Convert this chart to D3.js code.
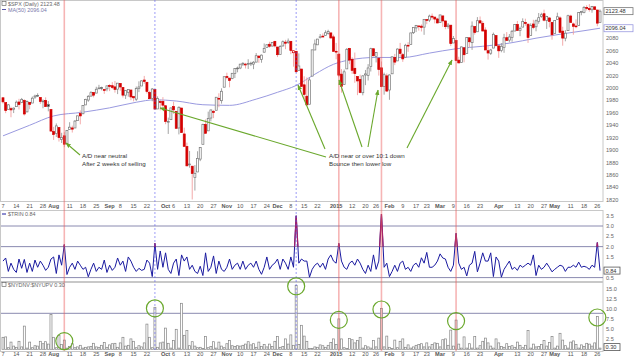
<!DOCTYPE html>
<html>
<head>
<meta charset="utf-8">
<script src="https://cdn.jsdelivr.net/npm/d3@7"></script>
<style>
  body { margin: 0; background: #fff; }
  svg { display: block; font-family: 'Liberation Sans', Arial, sans-serif; }
</style>
</head>
<body>
<div class="board"></div>
<script>
/*
=================================
DATA
=================================
*/
// trading days, month by month
var months = ['2014-07','2014-08','2014-09','2014-10','2014-11','2014-12','2015-01','2015-02','2015-03','2015-04','2015-05'];
var monthDays = [
  [7,8,9,10,11,14,15,16,17,18,21,22,23,24,25,28,29,30,31],
  [1,4,5,6,7,8,11,12,13,14,15,18,19,20,21,22,25,26,27,28,29],
  [2,3,4,5,8,9,10,11,12,15,16,17,18,19,22,23,24,25,26,29,30],
  [1,2,3,6,7,8,9,10,13,14,15,16,17,20,21,22,23,24,27,28,29,30,31],
  [3,4,5,6,7,10,11,12,13,14,17,18,19,20,21,24,25,26,28],
  [1,2,3,4,5,8,9,10,11,12,15,16,17,18,19,22,23,24,26,29,30,31],
  [2,5,6,7,8,9,12,13,14,15,16,20,21,22,23,26,27,28,29,30],
  [2,3,4,5,6,9,10,11,12,13,17,18,19,20,23,24,25,26,27],
  [2,3,4,5,6,9,10,11,12,13,16,17,18,19,20,23,24,25,26,27,30,31],
  [1,2,6,7,8,9,10,13,14,15,16,17,20,21,22,23,24,27,28,29,30],
  [1,4,5,6,7,8,11,12,13,14,15,18,19,20,21,22,26,27]
];

var open = [
  1984.2,1976.4,1965.1,1966.7,1965.8,1969.9,1977.4,1976.4,1979.8,1961.5,1976.9,1975.7,1985.3,1988.1,1984.6,1978.3,1980.0,1973.2,1965.1,
  1929.8,1926.6,1936.3,1917.3,1923.0,1910.4,1933.4,1935.7,1935.6,1947.4,1958.9,1958.4,1972.7,1980.5,1986.8,1992.6,1991.7,1998.6,2000.5,1997.4,1998.5,
  2004.1,2003.6,2001.7,1998.0,2007.2,2000.7,1988.4,1992.9,1996.7,1986.0,1981.9,1999.3,2003.1,2012.7,2009.1,1992.8,1983.3,1997.3,1966.2,1978.0,1978.2,
  1971.4,1945.8,1949.0,1970.0,1962.4,1935.6,1967.7,1926.0,1905.7,1877.1,1874.2,1855.9,1864.9,1885.6,1909.4,1941.3,1931.0,1951.6,1962.0,1964.1,1983.3,1979.5,2001.2,
  2018.2,2015.8,2015.3,2023.3,2032.0,2032.0,2038.2,2037.8,2039.2,2039.7,2038.3,2041.5,2051.2,2045.9,2057.5,2065.1,2070.2,2067.4,2074.8,
  2065.8,2053.8,2067.5,2073.6,2072.8,2074.8,2056.6,2058.9,2027.9,2030.4,2005.0,1986.7,1973.8,2019.0,2061.0,2069.3,2081.5,2083.3,2084.3,2087.6,2088.5,2082.1,
  2058.9,2054.4,2022.2,2005.6,2030.6,2063.5,2046.1,2031.6,2018.4,2013.8,1992.3,2020.8,2020.2,2034.3,2063.0,2050.4,2047.9,2032.3,2002.5,2019.4,
  1996.7,2022.7,2048.9,2043.5,2062.3,2053.5,2049.4,2068.6,2070.0,2088.8,2096.5,2099.2,2099.3,2097.7,2109.8,2109.1,2115.3,2113.9,2110.9,
  2105.2,2115.8,2107.7,2098.5,2100.9,2072.3,2076.1,2044.7,2041.1,2064.6,2055.4,2080.6,2072.8,2098.7,2090.3,2108.0,2103.9,2093.1,2059.9,2055.8,2064.1,2084.1,
  2067.6,2060.0,2064.9,2080.8,2076.9,2081.3,2091.5,2102.0,2092.3,2097.8,2105.0,2102.6,2084.1,2102.8,2098.3,2107.2,2114.8,2119.3,2108.4,2112.5,2105.5,
  2087.4,2110.2,2112.6,2091.3,2080.0,2092.1,2115.6,2102.9,2099.6,2100.4,2122.1,2121.3,2129.5,2127.8,2125.6,2130.4,2125.3,2105.1
];

var high = [
  1984.2,1976.4,1974.2,1969.8,1968.7,1979.8,1982.5,1983.9,1981.8,1979.9,1976.9,1986.2,1989.2,1991.4,1984.6,1981.5,1984.9,1978.9,1965.1,
  1937.4,1942.9,1936.3,1927.9,1928.9,1932.4,1944.9,1939.4,1948.4,1955.2,1964.0,1972.0,1982.6,1988.6,1994.8,1993.5,2001.9,2005.0,2002.1,1998.5,2003.4,
  2006.1,2009.3,2011.2,2007.7,2007.2,2001.0,1996.7,1997.7,1996.7,1987.2,2002.3,2010.7,2012.3,2019.3,2009.1,1995.4,1999.8,1997.3,1986.4,1981.3,1985.2,
  1971.4,1952.3,1968.1,1977.8,1962.4,1970.4,1967.7,1936.1,1912.1,1898.7,1874.2,1876.0,1898.2,1905.0,1942.5,1949.3,1961.9,1965.3,1964.6,1985.1,1991.4,1999.4,2018.2,
  2024.5,2016.0,2023.8,2031.6,2034.3,2038.7,2041.3,2040.3,2046.2,2042.2,2043.1,2056.1,2052.1,2053.8,2071.5,2070.2,2074.2,2073.3,2075.8,
  2065.8,2068.8,2076.3,2077.3,2079.5,2075.8,2060.6,2058.9,2055.5,2030.4,2018.7,2016.9,2016.8,2061.2,2077.9,2078.8,2086.7,2087.6,2092.7,2093.6,2088.5,2085.6,
  2072.4,2054.4,2030.3,2029.6,2064.1,2064.4,2049.3,2056.9,2018.4,2021.4,2020.5,2028.9,2038.3,2064.6,2063.0,2057.6,2047.9,2042.5,2024.6,2023.3,
  2021.7,2050.3,2054.7,2063.6,2072.4,2056.2,2070.9,2073.5,2088.5,2097.0,2101.3,2100.2,2102.1,2110.6,2110.1,2117.9,2119.6,2113.9,2112.7,
  2117.5,2115.8,2107.7,2104.3,2100.9,2083.5,2076.1,2050.1,2066.4,2064.6,2081.4,2080.6,2106.9,2098.7,2113.9,2114.9,2107.6,2097.4,2067.2,2062.8,2089.0,2084.1,
  2067.6,2072.2,2087.0,2089.8,2086.7,2093.3,2102.6,2107.7,2098.6,2111.9,2111.3,2102.6,2103.9,2109.6,2110.0,2120.5,2120.9,2125.9,2116.0,2113.7,2105.5,
  2108.4,2121.0,2115.2,2098.4,2092.9,2117.7,2117.7,2105.1,2110.2,2121.5,2123.9,2131.8,2133.0,2134.7,2131.8,2130.4,2125.3,2126.2
];

var low = [
  1974.9,1959.5,1965.1,1952.9,1959.6,1969.9,1965.3,1975.7,1955.6,1960.8,1965.8,1975.7,1982.4,1985.8,1974.4,1967.3,1969.9,1962.4,1930.0,
  1916.4,1921.2,1913.8,1911.5,1904.8,1909.0,1933.4,1928.3,1935.6,1947.4,1941.5,1958.4,1972.7,1977.7,1986.8,1984.8,1991.7,1998.6,1996.2,1990.5,1994.6,
  1994.9,1998.1,1992.5,1990.1,1995.6,1984.6,1982.3,1985.9,1980.3,1978.5,1979.1,1993.3,2003.1,2006.6,1991.0,1982.4,1978.6,1965.9,1966.2,1964.0,1968.0,
  1941.7,1926.0,1949.0,1958.4,1935.1,1925.3,1927.6,1906.1,1874.1,1871.8,1820.7,1835.0,1864.9,1882.3,1909.4,1927.0,1931.0,1946.3,1951.4,1964.1,1969.0,1974.8,2001.2,
  2013.7,2001.0,2014.0,2015.9,2025.1,2030.2,2035.3,2031.3,2030.4,2035.2,2030.2,2041.5,2040.4,2040.5,2056.8,2065.1,2064.8,2066.4,2065.1,
  2049.6,2053.8,2066.7,2062.3,2070.8,2054.3,2034.2,2024.3,2027.9,2002.3,1982.3,1972.6,1973.8,2019.0,2061.0,2069.3,2079.5,2081.9,2084.3,2085.8,2079.5,2057.9,
  2046.0,2017.3,1992.4,2005.6,2030.6,2038.3,2022.6,2008.3,1988.4,1991.5,1988.1,2004.5,2012.0,2026.4,2050.5,2041.0,2019.9,2001.5,1989.2,1993.4,
  1980.9,2022.7,2036.7,2043.5,2050.0,2041.9,2048.6,2058.0,2070.0,2086.7,2089.8,2092.2,2090.8,2085.4,2102.5,2105.9,2109.9,2103.8,2103.8,
  2104.5,2098.3,2094.5,2095.2,2067.3,2072.2,2044.2,2039.7,2041.1,2041.2,2055.4,2065.1,2061.2,2085.6,2090.3,2104.4,2091.5,2061.1,2045.5,2053.0,2064.1,2067.0,
  2048.4,2057.3,2056.5,2076.1,2073.3,2074.3,2091.5,2092.3,2083.2,2097.8,2100.0,2072.4,2084.1,2094.4,2091.1,2103.2,2112.8,2107.0,2094.9,2097.4,2077.6,
  2087.4,2110.2,2088.5,2067.9,2075.0,2092.1,2104.6,2085.6,2096.0,2100.4,2116.8,2120.0,2124.5,2122.6,2120.9,2125.9,2099.2,2105.1
];

var close = [
  1977.65,1963.71,1972.83,1964.68,1967.57,1977.10,1973.28,1981.57,1958.12,1978.22,1973.63,1983.53,1987.01,1987.98,1978.34,1978.91,1969.95,1970.07,1930.67,
  1925.15,1938.99,1920.21,1920.24,1909.57,1931.59,1936.92,1933.75,1946.72,1955.18,1955.06,1971.74,1981.60,1986.51,1992.37,1988.40,1997.92,2000.02,2000.12,1996.74,2003.37,
  2002.28,2000.72,1997.65,2007.71,2001.54,1988.44,1995.69,1997.45,1985.54,1984.13,1998.98,2001.57,2011.36,2010.40,1994.29,1982.77,1998.30,1965.99,1982.85,1977.80,1972.29,
  1946.16,1946.17,1967.90,1964.82,1935.10,1968.89,1928.21,1906.13,1874.74,1877.70,1862.49,1862.76,1886.76,1904.01,1941.28,1927.11,1950.82,1964.58,1961.63,1985.05,1982.30,1994.65,2018.05,
  2017.81,2012.10,2023.57,2031.21,2031.92,2038.26,2039.68,2038.25,2039.33,2039.82,2041.32,2051.80,2048.72,2052.75,2063.50,2069.41,2067.03,2072.83,2067.56,
  2053.44,2066.55,2074.33,2071.92,2075.37,2060.31,2059.82,2026.14,2035.33,2002.33,1989.63,1972.74,2012.89,2061.23,2070.65,2078.54,2082.17,2081.88,2088.77,2090.57,2080.35,2058.90,
  2058.20,2020.58,2002.61,2025.90,2062.14,2044.81,2028.26,2023.03,2011.27,1992.67,2019.42,2022.55,2032.12,2063.15,2051.82,2057.09,2029.55,2002.16,2021.25,1994.99,
  2020.85,2050.03,2041.51,2062.52,2055.47,2046.74,2068.59,2068.53,2088.48,2096.99,2100.34,2099.68,2097.45,2110.30,2109.66,2115.48,2113.86,2110.74,2104.50,
  2117.39,2107.78,2098.53,2101.04,2071.26,2079.43,2044.16,2040.24,2065.95,2053.40,2081.19,2074.28,2099.50,2089.27,2108.10,2104.42,2091.50,2061.05,2056.15,2061.02,2086.24,2067.89,
  2059.69,2066.96,2080.62,2076.33,2081.90,2091.18,2102.06,2092.43,2095.84,2106.63,2104.99,2081.18,2100.40,2097.29,2107.96,2112.93,2117.69,2108.92,2114.76,2106.85,2085.51,
  2108.29,2114.49,2089.46,2080.15,2088.00,2116.10,2105.33,2099.12,2098.48,2121.10,2122.73,2129.20,2127.83,2125.85,2130.82,2126.06,2104.20,2123.48
];
var prevClose = 1985.44; // Jul 3, 2014

// MA(50) at a few days (day index, value)
var maDay = [0, 10, 19, 30, 40, 50, 57, 65, 75, 85, 95, 103, 110, 117, 124, 130, 140, 150, 160, 170, 180, 190, 200, 210, 218, 224];
var maValue = [1923, 1940, 1955, 1961, 1968, 1977, 1981, 1979, 1973, 1972, 1982, 1993, 2004, 2022, 2038, 2045, 2049, 2049, 2056, 2063, 2067, 2072, 2080, 2087, 2092, 2096];

var trin = [
  1.3,1.45,0.8,1.2,0.9,0.75,1.4,0.95,1.38,0.75,1.2,0.8,1.35,1.0,1.3,1.1,0.85,1.0,1.4,1.5,
  0.7,1.6,1.1,2.1,0.65,1.0,1.2,0.9,1.3,1.1,0.9,1.0,0.54,0.9,1.2,0.8,1.0,0.9,1.35,0.75,
  1.1,0.85,1.0,1.45,1.1,1.3,0.8,1.5,1.3,1.0,0.8,0.95,0.85,0.9,1.35,1.2,0.55,2.16,0.9,1.79,
  1.0,1.7,0.9,0.7,1.2,1.4,0.6,1.6,1.3,1.5,0.9,1.1,0.8,0.7,1.05,0.6,1.7,0.8,1.0,1.55,
  0.7,1.3,0.9,0.8,1.0,1.4,0.9,1.1,1.2,0.9,1.3,0.9,1.1,1.2,1.0,1.3,0.9,0.66,1.0,1.5,
  0.9,1.1,1.2,1.4,0.9,1.4,1.2,0.9,1.5,1.0,3.5,1.2,1.4,1.3,1.3,0.52,0.9,1.1,1.2,1.0,
  1.2,0.9,1.4,1.6,1.3,1.2,2.16,1.3,1.0,0.9,1.2,1.3,1.1,1.4,1.2,0.9,0.7,1.1,0.8,1.6,
  0.9,1.3,3.58,1.0,1.2,0.55,0.8,1.1,0.8,1.2,1.3,0.9,1.0,0.8,1.1,1.2,1.0,1.46,1.2,1.72,
  1.0,1.0,1.1,1.3,1.65,1.45,1.4,1.0,0.8,1.1,2.65,1.2,0.9,1.0,0.58,1.1,1.2,1.77,0.78,1.2,
  1.7,1.3,1.3,1.7,0.55,1.5,1.3,0.52,0.9,1.1,1.3,0.9,1.0,0.85,1.1,1.0,1.1,1.2,1.1,1.6,
  0.6,1.1,0.9,1.0,1.2,1.0,0.78,0.9,1.0,1.1,1.05,0.8,1.0,1.0,1.1,1.0,1.25,1.0,1.05,1.0,
  0.9,1.1,1.0,2.2,0.84
];

var ratio = [
  3.0,3.1,0.4,1.8,0.8,0.5,2.0,0.6,5.8,0.3,1.8,0.4,0.9,0.8,2.0,1.4,1.9,1.3,8.7,3.0,
  0.4,3.5,1.2,2.3,0.3,0.7,1.4,0.4,0.6,1.0,0.3,0.5,0.6,0.7,1.5,0.6,0.5,1.0,1.7,0.5,
  1.1,1.4,1.5,0.5,1.6,3.0,0.8,1.0,2.6,2.0,0.4,0.9,0.6,1.6,6.3,3.0,0.4,10.5,0.5,1.6,
  1.8,5.3,1.5,0.3,2.2,5.0,0.3,11.5,3.5,4.7,0.9,1.9,0.8,0.4,0.5,0.2,3.2,0.4,0.7,1.9,
  0.3,1.8,0.8,0.4,1.4,2.2,0.9,0.7,0.9,0.8,1.0,1.3,1.9,1.1,1.4,0.5,1.8,0.7,1.2,0.6,
  1.3,0.7,2.0,3.2,0.5,0.7,2.6,1.3,3.6,1.0,16.0,1.2,6.0,3.3,2.0,0.2,0.2,0.6,0.5,1.1,
  0.9,0.5,1.0,1.7,2.6,1.2,7.6,2.6,0.4,0.2,2.7,2.4,1.6,2.2,3.0,0.3,0.9,0.6,0.3,2.2,
  0.6,2.8,10.2,0.6,3.3,0.5,0.2,2.3,0.4,2.0,2.6,0.5,1.1,0.3,0.6,1.0,1.2,1.4,0.6,1.6,
  0.6,1.2,1.6,1.5,0.6,2.4,2.6,1.0,4.8,0.8,7.3,1.3,0.3,3.1,0.3,1.4,0.3,3.2,0.3,0.9,
  2.0,2.8,1.6,0.8,0.3,2.6,1.6,0.7,0.5,1.4,0.7,0.9,0.5,1.8,1.0,0.4,1.0,4.7,0.3,1.3,
  0.6,0.7,1.2,2.2,0.8,1.7,3.2,0.3,0.8,4.0,2.3,0.9,0.3,1.8,2.1,1.2,0.3,1.1,0.7,1.5,
  1.3,0.8,1.6,8.2,0.30
];

// axis ticks
var tickDates = ['2014-07-07','2014-07-14','2014-07-21','2014-07-28','2014-08-01','2014-08-11','2014-08-18','2014-08-25',
  '2014-09-02','2014-09-08','2014-09-15','2014-09-22','2014-10-01','2014-10-06','2014-10-13','2014-10-20','2014-10-27',
  '2014-11-03','2014-11-10','2014-11-17','2014-11-24','2014-12-01','2014-12-08','2014-12-15','2014-12-22',
  '2015-01-02','2015-01-12','2015-01-20','2015-01-26','2015-02-02','2015-02-09','2015-02-17','2015-02-23',
  '2015-03-02','2015-03-09','2015-03-16','2015-03-23','2015-04-01','2015-04-13','2015-04-20','2015-04-27',
  '2015-05-01','2015-05-11','2015-05-18','2015-05-26'];
var tickLabels = ['7','14','21','28','Aug','11','18','25','Sep','8','15','22','Oct','6','13','20','27',
  'Nov','10','17','24','Dec','8','15','22','2015','12','20','26','Feb','9','17','23',
  'Mar','9','16','23','Apr','13','20','27','May','11','18','26'];
var priceTicks = [1820,1840,1860,1880,1900,1920,1940,1960,1980,2000,2020,2040,2060,2080,2100,2120];
var trinTicks = [0.5,1.0,1.5,2.0,2.5,3.0,3.5];
var trinLines = [0.5,2.0,3.0];
var ratioTicks = [2.5,5.0,7.5,10.0,12.5,15.0];
var ratioLines = [9.0];

// marked days
var redDays = ['2014-08-07','2015-01-05','2015-01-28','2015-03-10'];
var blueDays = ['2014-09-25','2014-12-10'];
var circleDays = ['2014-08-07','2014-09-25','2014-12-10','2015-01-05','2015-01-28','2015-03-10','2015-05-26'];


/*
=================================
HELPERS / SCALES
=================================
*/
var dates = [];
months.forEach(function(m, k) {
  monthDays[k].forEach(function(d) { dates.push(m + '-' + (d < 10 ? '0' + d : d)); });
});

var W = 640, H = 363;
var plotRight = 603;

var x = d3.scalePoint().domain(dates).range([3, 600]);
var yPrice = d3.scaleLinear().domain([1820, 2120]).range([199.9, 13.3]);
var yTrin = d3.scaleLinear().domain([0.5, 3.0]).range([277.6, 226]);
var yRatio = d3.scaleLinear().domain([0, 15]).range([349.3, 289.3]);

var bars = dates.map(function(d, i) {
  return { date: d, o: open[i], h: high[i], l: low[i], c: close[i],
           pc: i === 0 ? prevClose : close[i - 1], trin: trin[i], ratio: ratio[i] };
});

var svgContainer = d3.select('.board').append('svg')
  .attr('width', W)
  .attr('height', H);

svgContainer.append('rect').attr('width', W).attr('height', H).attr('fill', '#fff');

var green = '#6aa82c';

svgContainer.append('defs').append('marker')
  .attr('id', 'arr')
  .attr('viewBox', '0 0 10 10')
  .attr('refX', 9).attr('refY', 5)
  .attr('markerWidth', 5).attr('markerHeight', 5)
  .attr('orient', 'auto')
  .append('path').attr('d', 'M0,1 L10,5 L0,9 z').attr('fill', green);


/*
=================================
PANEL FRAMES
=================================
*/
var frames = [[0, 0, 201], [0, 210, 281], [0, 282, 351]];
frames.forEach(function(f) {
  svgContainer.append('rect')
    .attr('x', 0.5).attr('y', f[1] + 0.5)
    .attr('width', plotRight - 0.5).attr('height', f[2] - f[1])
    .attr('fill', 'none').attr('stroke', '#c8c8c8').attr('stroke-width', 1);
});

// horizontal reference lines
svgContainer.selectAll('.trinline').data(trinLines).enter().append('line')
  .attr('x1', 1).attr('x2', plotRight)
  .attr('y1', d => yTrin(d)).attr('y2', d => yTrin(d))
  .attr('stroke', '#8a8ab0').attr('stroke-width', 1);

svgContainer.selectAll('.ratioline').data(ratioLines).enter().append('line')
  .attr('x1', 1).attr('x2', plotRight)
  .attr('y1', d => yRatio(d)).attr('y2', d => yRatio(d))
  .attr('stroke', '#8a8ab0').attr('stroke-width', 1);


/*
=================================
PRICE PANEL
=================================
*/
var maLine = d3.line()
  .x(d => x(dates[d[0]]))
  .y(d => yPrice(d[1]))
  .curve(d3.curveMonotoneX);

svgContainer.append('path')
  .datum(maDay.map((d, k) => [d, maValue[k]]))
  .attr('d', maLine)
  .attr('fill', 'none')
  .attr('stroke', '#9a9ae0')
  .attr('stroke-width', 1);

var candles = svgContainer.append('g').selectAll('g')
  .data(bars).enter().append('g');

// wicks
candles.append('line')
  .attr('x1', d => x(d.date)).attr('x2', d => x(d.date))
  .attr('y1', d => yPrice(d.h)).attr('y2', d => yPrice(d.l))
  .attr('stroke', d => d.c >= d.pc ? '#9a9a9a' : '#f2a0a0')
  .attr('stroke-width', 0.9);

// bodies
candles.append('rect')
  .attr('x', d => x(d.date) - 1)
  .attr('width', 2)
  .attr('y', d => yPrice(Math.max(d.o, d.c)))
  .attr('height', d => Math.max(0.8, Math.abs(yPrice(d.o) - yPrice(d.c))))
  .attr('fill', function(d) {
    if (d.c >= d.o) return '#fff';
    return d.c >= d.pc ? '#222' : '#d40000';
  })
  .attr('stroke', d => d.c >= d.pc ? '#777' : '#d40000')
  .attr('stroke-width', 0.7);


/*
=================================
TRIN PANEL
=================================
*/
var trinLine = d3.line()
  .x(d => x(d.date))
  .y(d => yTrin(d.trin));

svgContainer.append('path')
  .datum(bars)
  .attr('d', trinLine)
  .attr('fill', 'none')
  .attr('stroke', '#1a1aa0')
  .attr('stroke-width', 1);

svgContainer.append('clipPath').attr('id', 'trinHigh')
  .append('rect').attr('x', 0).attr('y', 210).attr('width', plotRight).attr('height', yTrin(2.0) - 210);

svgContainer.append('path')
  .datum(bars)
  .attr('d', trinLine)
  .attr('clip-path', 'url(#trinHigh)')
  .attr('fill', 'none')
  .attr('stroke', '#a0206a')
  .attr('stroke-width', 1.3);


/*
=================================
NYDNV:NYUPV PANEL
=================================
*/
svgContainer.append('g').selectAll('rect')
  .data(bars).enter().append('rect')
  .attr('x', d => x(d.date) - 1)
  .attr('width', 2)
  .attr('y', d => yRatio(d.ratio))
  .attr('height', d => yRatio(0) - yRatio(d.ratio))
  .attr('fill', '#fff')
  .attr('stroke', '#858585')
  .attr('stroke-width', 0.7);


/*
=================================
MARKER LINES
=================================
*/
svgContainer.selectAll('.redday').data(redDays).enter().append('line')
  .attr('x1', d => x(d)).attr('x2', d => x(d))
  .attr('y1', 0).attr('y2', 351)
  .attr('stroke', 'rgba(235,90,90,0.45)')
  .attr('stroke-width', 1.6);

svgContainer.selectAll('.blueday').data(blueDays).enter().append('line')
  .attr('x1', d => x(d)).attr('x2', d => x(d))
  .attr('y1', 0).attr('y2', 351)
  .attr('stroke', 'rgba(90,90,240,0.6)')
  .attr('stroke-dasharray', '2,2')
  .attr('stroke-width', 1);

svgContainer.selectAll('.circ').data(circleDays).enter().append('circle')
  .attr('cx', d => x(d))
  .attr('cy', d => yRatio(ratio[dates.indexOf(d)]) + 1)
  .attr('r', 8.5)
  .attr('fill', 'none')
  .attr('stroke', green)
  .attr('stroke-width', 1.2);


/*
=================================
AXES
=================================
*/
var axisFont = 5.6;

// value boxes at right (they sit over the tick labels)
var boxes = [
  { y: yPrice(close[close.length - 1]), t: '2123.48', c: '#777', w: 29 },
  { y: yPrice(maValue[maValue.length - 1]), t: '2096.04', c: '#9a9ae0', w: 29 },
  { y: yTrin(trin[trin.length - 1]), t: '0.84', c: '#555', w: 16 },
  { y: yRatio(ratio[ratio.length - 1]) - 1, t: '0.30', c: '#555', w: 16 }
];
var freeOfBoxes = function(yy) {
  return boxes.every(b => Math.abs(b.y - yy) > 6);
};

[207.5, 356].forEach(function(yy) {
  svgContainer.append('g').selectAll('text')
    .data(tickDates).enter().append('text')
    .attr('x', d => x(d))
    .attr('y', yy)
    .attr('text-anchor', 'middle')
    .attr('font-size', axisFont)
    .attr('font-weight', (d, k) => isNaN(+tickLabels[k]) || tickLabels[k] === '2015' ? 'bold' : 'normal')
    .attr('fill', '#555')
    .text((d, k) => tickLabels[k]);
});

svgContainer.append('g').selectAll('text')
  .data(priceTicks.filter(d => freeOfBoxes(yPrice(d)))).enter().append('text')
  .attr('x', plotRight + 3).attr('y', d => yPrice(d) + 2)
  .attr('font-size', axisFont).attr('fill', '#666')
  .text(d => d);

svgContainer.append('g').selectAll('text')
  .data(trinTicks.filter(d => freeOfBoxes(yTrin(d)))).enter().append('text')
  .attr('x', plotRight + 3).attr('y', d => yTrin(d) + 2)
  .attr('font-size', axisFont).attr('fill', '#666')
  .text(d => d.toFixed(1));

svgContainer.append('g').selectAll('text')
  .data(ratioTicks.filter(d => freeOfBoxes(yRatio(d)))).enter().append('text')
  .attr('x', plotRight + 3).attr('y', d => yRatio(d) + 2)
  .attr('font-size', axisFont).attr('fill', '#666')
  .text(d => d.toFixed(1));

boxes.forEach(function(b) {
  svgContainer.append('rect')
    .attr('x', plotRight + 1).attr('y', b.y - 3.5)
    .attr('width', b.w).attr('height', 7)
    .attr('fill', '#fff').attr('stroke', b.c).attr('stroke-width', 0.8);
  svgContainer.append('text')
    .attr('x', plotRight + 2.5).attr('y', b.y + 2)
    .attr('font-size', axisFont).attr('fill', '#333')
    .text(b.t);
});


/*
=================================
LEGENDS
=================================
*/
svgContainer.append('rect').attr('x', 2).attr('y', 1.5).attr('width', 4).attr('height', 4)
  .attr('fill', '#fff').attr('stroke', '#555').attr('stroke-width', 0.6);
svgContainer.append('text').attr('x', 8).attr('y', 5.5)
  .attr('font-size', 5.4).attr('fill', '#666').text('$SPX (Daily) 2123.48');
svgContainer.append('line').attr('x1', 2).attr('x2', 6).attr('y1', 9.5).attr('y2', 9.5)
  .attr('stroke', '#5555aa').attr('stroke-width', 1);
svgContainer.append('text').attr('x', 8).attr('y', 11.5)
  .attr('font-size', 5.4).attr('fill', '#7777aa').text('MA(50) 2096.04');

svgContainer.append('line').attr('x1', 2).attr('x2', 6).attr('y1', 214).attr('y2', 214)
  .attr('stroke', '#1a1aa0').attr('stroke-width', 1);
svgContainer.append('text').attr('x', 8).attr('y', 216)
  .attr('font-size', 5.4).attr('fill', '#666').text('$TRIN 0.84');

svgContainer.append('rect').attr('x', 2).attr('y', 282.5).attr('width', 4).attr('height', 4)
  .attr('fill', '#fff').attr('stroke', '#555').attr('stroke-width', 0.6);
svgContainer.append('text').attr('x', 8).attr('y', 286.5)
  .attr('font-size', 5.4).attr('fill', '#666').text('$NYDNV:$NYUPV 0.30');


/*
=================================
ANNOTATIONS
=================================
*/
var arrows = [
  [80, 155, 66, 143],
  [326, 157, 160, 108],
  [325, 149, 298, 85],
  [362, 147, 339, 80],
  [368, 147, 378, 90],
  [407, 148, 452, 60]
];
svgContainer.selectAll('.arrow').data(arrows).enter().append('line')
  .attr('x1', d => d[0]).attr('y1', d => d[1])
  .attr('x2', d => d[2]).attr('y2', d => d[3])
  .attr('stroke', green).attr('stroke-width', 1.1)
  .attr('marker-end', 'url(#arr)');

var notes = [
  [82, 158, 'A/D near neutral'],
  [82, 166, 'After 2 weeks of selling'],
  [329, 158, 'A/D near or over 10:1 down'],
  [329, 166, 'Bounce then lower low']
];
svgContainer.selectAll('.note').data(notes).enter().append('text')
  .attr('x', d => d[0]).attr('y', d => d[1])
  .attr('font-size', 6.2).attr('fill', '#333')
  .text(d => d[2]);
</script>
</body>
</html>
